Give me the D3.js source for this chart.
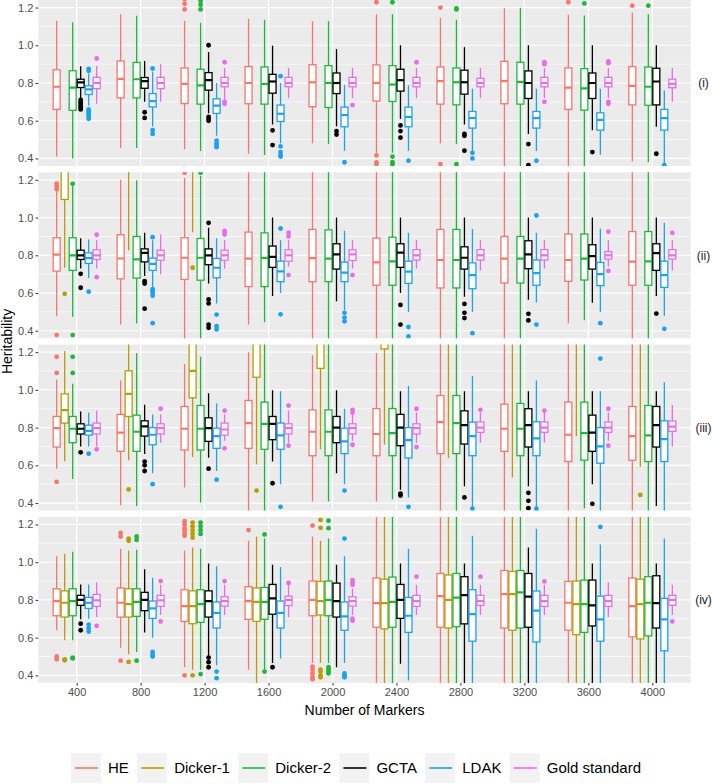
<!DOCTYPE html>
<html><head><meta charset="utf-8">
<script src="https://cdn.jsdelivr.net/npm/d3@7"></script>
<style>
body{margin:0;background:#fff;}
svg{display:block;font-family:"Liberation Sans",Arial,Helvetica,sans-serif;}
</style></head>
<body><svg id="chart" width="712" height="784"></svg>
<script>
// ---------------- data ----------------
const panels = ["(i)", "(ii)", "(iii)", "(iv)"];
const markers = [400, 800, 1200, 1600, 2000, 2400, 2800, 3200, 3600, 4000];
const methods = ["HE", "Dicker-1", "Dicker-2", "GCTA", "LDAK", "Gold standard"];
const colors = ["#F8766D", "#B79F00", "#1DB83A", "#000000", "#1AA3EE", "#EB6BEB"];
const yTicks = [0.4, 0.6, 0.8, 1.0, 1.2];
const yMinor = [0.5, 0.7, 0.9, 1.1];
// five-number summaries per marker: [lower whisker, Q1, median, Q3, upper whisker]
// panel (i)
const HE_i = [[0.41,0.66,0.78,0.87,1.13],[0.456,0.721,0.822,0.917,1.165],[0.449,0.691,0.795,0.88,1.13],[0.425,0.69,0.80,0.887,1.141],[0.48,0.674,0.804,0.897,1.128],[0.43,0.704,0.80,0.896,1.165],[0.48,0.688,0.81,0.885,1.146],[0.30,0.69,0.81,0.915,1.197],[0.30,0.66,0.776,0.88,1.162],[0.384,0.684,0.785,0.887,1.174]];
const D1_i = [null,null,null,null,null,null,null,null,null,null];
const D2_i = [[0.40,0.655,0.776,0.865,1.122],[0.455,0.721,0.82,0.909,1.156],[0.44,0.688,0.787,0.873,1.12],[0.418,0.688,0.795,0.885,1.135],[0.476,0.67,0.80,0.892,1.128],[0.43,0.702,0.792,0.892,1.165],[0.476,0.684,0.804,0.88,1.135],[0.30,0.688,0.806,0.91,1.197],[0.30,0.656,0.771,0.876,1.158],[0.38,0.682,0.78,0.885,1.165]];
const GC_i = [[0.72,0.776,0.803,0.82,0.889],[0.70,0.772,0.81,0.829,0.917],[0.64,0.762,0.815,0.855,0.965],[0.58,0.746,0.808,0.846,0.998],[0.57,0.744,0.80,0.853,0.98],[0.61,0.757,0.815,0.873,1.0],[0.58,0.741,0.804,0.868,0.99],[0.53,0.718,0.80,0.864,1.0],[0.55,0.718,0.80,0.853,1.0],[0.568,0.684,0.808,0.878,1.0]];
const LD_i = [[0.68,0.739,0.766,0.785,0.85],[0.57,0.673,0.704,0.744,0.86],[0.52,0.639,0.68,0.716,0.80],[0.48,0.596,0.637,0.683,0.80],[0.44,0.568,0.63,0.672,0.79],[0.44,0.568,0.62,0.672,0.788],[0.44,0.561,0.614,0.649,0.77],[0.44,0.561,0.614,0.649,0.77],[0.42,0.55,0.605,0.642,0.77],[0.37,0.55,0.614,0.66,0.76]];
const GS_i = [[0.69,0.77,0.80,0.83,0.89],[0.70,0.77,0.80,0.83,0.90],[0.71,0.78,0.80,0.83,0.88],[0.72,0.78,0.80,0.83,0.88],[0.72,0.78,0.80,0.83,0.88],[0.72,0.78,0.80,0.83,0.88],[0.72,0.78,0.80,0.825,0.88],[0.72,0.78,0.80,0.83,0.88],[0.72,0.78,0.80,0.83,0.88],[0.70,0.775,0.795,0.82,0.88]];
const HE_i_out = [[],[],[1.19,1.22,1.245],[],[],[1.228,0.416,0.379,0.37],[1.20,0.37],[],[1.228],[1.21]];
const D1_i_out = [[],[],[],[],[],[],[],[],[],[]];
const D2_i_out = [[],[],[1.19,1.215,1.235],[],[],[1.228,0.41,0.38,0.37],[1.19,1.195,0.37],[],[1.222],[1.21]];
const GC_i_out = [[0.71,0.70,0.69,0.68,0.67,0.66],[0.645,0.615],[1.0,0.62,0.61,0.60],[0.549,0.471],[0.545,0.527],[0.575,0.545,0.51],[0.53,0.52,0.441],[0.476,0.364],[0.434],[0.425]];
const LD_i_out = [[0.875,0.865,0.66,0.65,0.64,0.63,0.62,0.61],[0.877,0.55,0.53],[0.495,0.48,0.47,0.46],[0.836,0.464,0.434,0.418,0.41],[0.38],[0.388],[0.43,0.40],[0.388],[],[0.365]];
const GS_i_out = [[0.93],[],[0.91,0.70,0.69],[],[0.683],[0.91],[],[0.91,0.90,0.70],[0.915,0.905,0.70,0.69],[]];
// panel (ii)
const HE_ii = [[0.477,0.716,0.804,0.893,1.14],[0.433,0.675,0.783,0.909,1.20],[0.30,0.672,0.787,0.893,1.21],[0.433,0.634,0.782,0.923,1.30],[0.30,0.66,0.785,0.937,1.30],[0.30,0.641,0.762,0.891,1.30],[0.30,0.627,0.775,0.937,1.30],[0.30,0.653,0.782,0.90,1.30],[0.44,0.662,0.775,0.913,1.30],[0.30,0.641,0.766,0.926,1.30]];
const D1_ii = [[0.734,1.096,1.35,1.5,1.8],[0.827,1.3,1.4,1.5,1.8],[0.922,1.3,1.4,1.5,1.8],null,null,null,null,null,null,null];
const D2_ii = [[0.474,0.72,0.80,0.893,1.166],[0.439,0.679,0.778,0.90,1.198],[0.30,0.668,0.787,0.889,1.22],[0.445,0.634,0.786,0.919,1.30],[0.30,0.66,0.782,0.935,1.30],[0.30,0.641,0.768,0.896,1.30],[0.30,0.627,0.775,0.937,1.30],[0.30,0.653,0.782,0.90,1.30],[0.456,0.669,0.782,0.913,1.30],[0.30,0.641,0.768,0.926,1.30]];
const GC_ii = [[0.73,0.778,0.80,0.827,0.89],[0.69,0.765,0.813,0.834,0.919],[0.65,0.75,0.80,0.834,0.946],[0.584,0.736,0.792,0.849,1.0],[0.556,0.727,0.805,0.861,1.0],[0.60,0.736,0.814,0.861,1.0],[0.58,0.727,0.787,0.845,1.0],[0.565,0.729,0.805,0.877,1.0],[0.549,0.727,0.796,0.856,1.0],[0.584,0.72,0.812,0.861,1.0]];
const LD_ii = [[0.68,0.757,0.785,0.813,0.884],[0.63,0.72,0.755,0.785,0.88],[0.545,0.681,0.734,0.783,0.89],[0.60,0.66,0.715,0.769,0.88],[0.51,0.66,0.708,0.764,0.93],[0.50,0.651,0.713,0.769,0.92],[0.50,0.623,0.695,0.76,0.94],[0.55,0.641,0.705,0.775,0.92],[0.50,0.639,0.70,0.762,0.942],[0.48,0.63,0.695,0.769,0.972]];
const GS_ii = [[0.73,0.778,0.80,0.829,0.88],[0.70,0.774,0.80,0.827,0.91],[0.73,0.774,0.80,0.827,0.88],[0.74,0.769,0.80,0.829,0.88],[0.73,0.773,0.805,0.829,0.88],[0.73,0.775,0.80,0.83,0.88],[0.72,0.775,0.80,0.83,0.88],[0.73,0.775,0.80,0.83,0.88],[0.74,0.78,0.80,0.82,0.88],[0.72,0.78,0.80,0.83,0.88]];
const HE_ii_out = [[1.18,1.165,1.15,0.377],[],[1.237],[],[],[],[],[],[],[]];
const D1_ii_out = [[0.596],[],[0.734],[],[],[],[],[],[],[]];
const D2_ii_out = [[1.179,0.377],[],[1.237],[],[],[],[],[],[],[]];
const GC_ii_out = [[0.702,0.628],[0.663,0.65,0.517],[0.972,0.566,0.545,0.433,0.416],[],[],[0.537,0.433],[0.542,0.495,0.467],[0.49,0.455],[],[0.491]];
const LD_ii_out = [[0.607],[0.896,0.62,0.61,0.60,0.585,0.44],[0.486,0.424,0.407],[0.942,0.487],[0.495,0.47,0.45],[0.42,0.37],[0.387],[1.011,0.433],[0.44],[0.41]];
const GS_ii_out = [[0.909,0.684],[],[0.93,0.92,0.91],[0.92,0.90,0.695],[0.695],[],[],[],[0.925,0.717],[0.919]];
// panel (iii)
const HE_iii = [[0.582,0.697,0.797,0.859,1.055],[0.389,0.674,0.773,0.87,1.05],[0.483,0.681,0.794,0.912,1.137],[0.30,0.69,0.824,0.944,1.20],[0.408,0.651,0.778,0.894,1.184],[0.408,0.651,0.766,0.901,1.194],[0.30,0.662,0.829,0.97,1.30],[0.30,0.674,0.794,0.924,1.30],[0.30,0.62,0.762,0.935,1.30],[0.30,0.627,0.755,0.912,1.30]];
const D1_iii = [[0.622,0.824,0.893,0.979,1.206],[0.627,0.859,0.979,1.101,1.30],[0.644,0.958,1.101,1.35,1.6],[0.605,1.067,1.35,1.5,1.8],[0.685,1.114,1.35,1.5,1.8],[0.709,1.217,1.4,1.5,1.8],[0.639,1.3,1.4,1.5,1.8],[0.535,1.3,1.4,1.5,1.8],[0.755,1.3,1.4,1.5,1.8],[0.593,1.3,1.4,1.5,1.8]];
const D2_iii = [[0.528,0.72,0.794,0.859,1.032],[0.385,0.674,0.778,0.866,1.194],[0.403,0.681,0.794,0.917,1.175],[0.30,0.685,0.82,0.935,1.30],[0.408,0.651,0.778,0.894,1.30],[0.42,0.651,0.771,0.901,1.30],[0.30,0.662,0.824,0.97,1.30],[0.30,0.651,0.794,0.928,1.30],[0.373,0.627,0.771,0.935,1.30],[0.30,0.62,0.759,0.917,1.30]];
const GC_iii = [[0.70,0.766,0.794,0.82,0.885],[0.66,0.755,0.806,0.836,0.921],[0.64,0.727,0.797,0.852,0.982],[0.62,0.736,0.82,0.859,0.998],[0.558,0.72,0.80,0.859,0.998],[0.47,0.704,0.80,0.87,0.993],[0.489,0.713,0.813,0.889,0.993],[0.489,0.697,0.813,0.90,0.993],[0.50,0.674,0.773,0.866,0.993],[0.385,0.697,0.813,0.912,0.993]];
const LD_iii = [[0.70,0.76,0.783,0.813,0.88],[0.558,0.709,0.762,0.80,0.87],[0.57,0.69,0.755,0.797,0.928],[0.50,0.685,0.759,0.824,0.993],[0.50,0.662,0.727,0.797,0.90],[0.43,0.639,0.734,0.80,1.02],[0.373,0.651,0.755,0.829,1.073],[0.30,0.651,0.743,0.831,1.05],[0.30,0.611,0.70,0.80,0.993],[0.30,0.62,0.739,0.836,1.04]];
const GS_iii = [[0.70,0.766,0.797,0.824,0.89],[0.72,0.766,0.797,0.82,0.87],[0.73,0.76,0.79,0.824,0.87],[0.72,0.766,0.797,0.82,0.89],[0.73,0.766,0.797,0.82,0.88],[0.72,0.766,0.797,0.82,0.88],[0.72,0.775,0.80,0.83,0.88],[0.72,0.775,0.80,0.83,0.88],[0.73,0.775,0.80,0.83,0.88],[0.70,0.78,0.805,0.835,0.92]];
const HE_iii_out = [[1.175,1.09,0.512],[],[],[],[],[],[],[],[],[]];
const D1_iii_out = [[],[0.472],[],[0.466],[],[],[],[],[],[0.443]];
const D2_iii_out = [[1.175,1.09],[],[],[],[],[],[],[],[],[]];
const GC_iii_out = [[0.669],[0.62,0.60,0.57],[0.582],[0.505],[],[0.45,0.44],[0.43],[0.454,0.412,0.373],[0.396],[]];
const LD_iii_out = [[0.662],[0.50],[0.524],[0.38],[0.466],[0.38],[0.37],[0.37],[1.166],[]];
const GS_iii_out = [[0.685],[0.90],[0.89,0.69],[0.917,0.704],[0.894,0.88,0.709],[0.90,0.697],[0.894],[0.89],[0.90,0.704],[]];
// panel (iv)
const HE_iv = [[0.639,0.716,0.794,0.859,1.032],[0.547,0.709,0.785,0.863,1.071],[0.443,0.686,0.767,0.854,1.062],[0.43,0.697,0.794,0.87,1.113],[0.466,0.716,0.80,0.90,1.136],[0.30,0.655,0.783,0.916,1.30],[0.30,0.655,0.82,0.94,1.30],[0.30,0.651,0.831,0.956,1.30],[0.30,0.639,0.785,0.898,1.30],[0.30,0.604,0.767,0.916,1.30]];
const D1_iv = [[0.586,0.709,0.785,0.848,1.044],[0.512,0.709,0.778,0.859,1.062],[0.43,0.674,0.767,0.848,1.078],[0.30,0.686,0.79,0.863,1.136],[0.466,0.72,0.794,0.898,1.113],[0.30,0.646,0.783,0.91,1.30],[0.30,0.651,0.80,0.932,1.30],[0.30,0.639,0.831,0.951,1.30],[0.30,0.616,0.778,0.90,1.30],[0.30,0.593,0.778,0.91,1.30]];
const D2_iv = [[0.586,0.716,0.794,0.859,1.055],[0.524,0.713,0.79,0.859,1.066],[0.43,0.681,0.778,0.854,1.071],[0.43,0.697,0.79,0.866,1.125],[0.466,0.716,0.80,0.90,1.125],[0.30,0.655,0.79,0.921,1.30],[0.30,0.658,0.812,0.94,1.30],[0.30,0.651,0.84,0.956,1.30],[0.30,0.628,0.778,0.905,1.30],[0.30,0.609,0.785,0.923,1.30]];
const GC_iv = [[0.697,0.771,0.80,0.824,0.882],[0.627,0.743,0.80,0.84,0.963],[0.50,0.709,0.794,0.848,0.993],[0.466,0.724,0.808,0.882,0.986],[0.443,0.709,0.794,0.889,0.986],[0.461,0.702,0.80,0.882,0.993],[0.30,0.673,0.825,0.923,0.993],[0.30,0.655,0.817,0.94,1.078],[0.30,0.662,0.771,0.905,0.993],[0.30,0.651,0.783,0.928,0.993]];
const LD_iv = [[0.70,0.755,0.785,0.813,0.882],[0.60,0.702,0.755,0.794,0.917],[0.454,0.651,0.731,0.789,0.978],[0.489,0.651,0.731,0.794,0.974],[0.466,0.639,0.713,0.789,1.032],[0.373,0.628,0.716,0.813,1.071],[0.30,0.581,0.725,0.854,1.14],[0.30,0.577,0.743,0.847,1.177],[0.30,0.581,0.697,0.82,1.094],[0.30,0.53,0.697,0.808,1.125]];
const GS_iv = [[0.71,0.766,0.797,0.829,0.894],[0.72,0.766,0.797,0.824,0.88],[0.72,0.767,0.794,0.817,0.88],[0.708,0.77,0.80,0.82,0.88],[0.72,0.767,0.794,0.817,0.86],[0.72,0.766,0.794,0.824,0.88],[0.72,0.771,0.794,0.824,0.88],[0.72,0.766,0.794,0.824,0.88],[0.71,0.766,0.794,0.824,0.894],[0.72,0.771,0.80,0.824,0.88]];
const HE_iv_out = [[0.50,0.485],[1.155,1.136,0.478],[1.217,1.20,1.18,1.165,1.15,1.14,0.40],[1.17],[1.194,0.446,0.43,0.41,0.39,0.38],[],[],[],[],[]];
const D1_iv_out = [[0.485,0.48],[1.125,1.113,0.471],[1.21,1.19,1.17,1.15,1.13,0.40],[],[1.224,1.182,0.43,0.42,0.40,0.39],[],[],[],[],[]];
const D2_iv_out = [[0.494,0.49],[1.136,1.118,0.478],[1.21,1.19,1.17,1.15,0.407],[1.147,0.42],[1.22,1.18,0.443,0.43,0.42,0.41],[],[],[],[],[]];
const GC_iv_out = [[0.674,0.639],[],[0.494,0.47,0.443],[0.443],[],[],[],[],[],[]];
const LD_iv_out = [[0.669,0.65,0.632],[0.524,0.51,0.50],[0.42,0.385],[],[1.125,0.41,0.40,0.39],[],[],[],[1.187],[]];
const GS_iv_out = [[0.662],[0.90,0.686],[0.90],[0.89],[0.905,0.89,0.88,0.70,0.69],[0.923],[0.923],[0.898],[],[0.686]];

const panelStats = [
  [HE_i, D1_i, D2_i, GC_i, LD_i, GS_i],
  [HE_ii, D1_ii, D2_ii, GC_ii, LD_ii, GS_ii],
  [HE_iii, D1_iii, D2_iii, GC_iii, LD_iii, GS_iii],
  [HE_iv, D1_iv, D2_iv, GC_iv, LD_iv, GS_iv]
];
const panelOut = [
  [HE_i_out, D1_i_out, D2_i_out, GC_i_out, LD_i_out, GS_i_out],
  [HE_ii_out, D1_ii_out, D2_ii_out, GC_ii_out, LD_ii_out, GS_ii_out],
  [HE_iii_out, D1_iii_out, D2_iii_out, GC_iii_out, LD_iii_out, GS_iii_out],
  [HE_iv_out, D1_iv_out, D2_iv_out, GC_iv_out, LD_iv_out, GS_iv_out]
];

// ---------------- layout ----------------
const W = 712, H = 784;
const left = 38.3, right = 690.7;
const panelH = 166, panelStep = 172.3, panelTop0 = 0;
const svg = d3.select("#chart");
svg.append("rect").attr("width", W).attr("height", H).attr("fill", "#fff");

const x = d3.scalePoint().domain(markers).range([left, right]).padding(0.6);
const dodge = d3.scaleBand().domain(methods).range([-24, 24]);
const boxW = 7;
const color = d3.scaleOrdinal().domain(methods).range(colors);

panels.forEach((pl, p) => {
  const top = panelTop0 + p * panelStep;
  const y = d3.scaleLinear().domain([0.36, 1.24]).range([top + panelH, top]);
  const g = svg.append("g");
  const clipId = "clip" + p;
  svg.append("clipPath").attr("id", clipId).append("rect")
    .attr("x", left).attr("y", top).attr("width", right - left).attr("height", panelH);
  g.append("rect").attr("x", left).attr("y", top).attr("width", right - left).attr("height", panelH).attr("fill", "#EBEBEB");
  // grid
  g.selectAll(".minor").data(yMinor).join("line")
    .attr("x1", left).attr("x2", right).attr("y1", d => y(d)).attr("y2", d => y(d))
    .attr("stroke", "#fff").attr("stroke-width", 0.6);
  g.selectAll(".major").data(yTicks).join("line")
    .attr("x1", left).attr("x2", right).attr("y1", d => y(d)).attr("y2", d => y(d))
    .attr("stroke", "#fff").attr("stroke-width", 1.2);
  g.selectAll(".vgrid").data(markers).join("line")
    .attr("x1", d => x(d)).attr("x2", d => x(d)).attr("y1", top).attr("y2", top + panelH)
    .attr("stroke", "#fff").attr("stroke-width", 1.2);

  const marks = svg.append("g").attr("clip-path", `url(#${clipId})`);
  methods.forEach((m, mi) => {
    const stats = panelStats[p][mi];
    const outs = panelOut[p][mi];
    const col = color(m);
    markers.forEach((mk, k) => {
      const cx = x(mk) + dodge(m) + dodge.bandwidth() / 2;
      const s = stats[k];
      const bg = marks.append("g");
      if (s) {
        const [lo, q1, med, q3, hi] = s;
        bg.append("line").attr("x1", cx).attr("x2", cx).attr("y1", y(hi)).attr("y2", y(q3))
          .attr("stroke", col).attr("stroke-width", 1.3);
        bg.append("line").attr("x1", cx).attr("x2", cx).attr("y1", y(q1)).attr("y2", y(lo))
          .attr("stroke", col).attr("stroke-width", 1.3);
        bg.append("rect").attr("x", cx - boxW / 2).attr("width", boxW)
          .attr("y", y(q3)).attr("height", y(q1) - y(q3))
          .attr("fill", "#fff").attr("stroke", col).attr("stroke-width", 1.3);
        bg.append("line").attr("x1", cx - boxW / 2).attr("x2", cx + boxW / 2)
          .attr("y1", y(med)).attr("y2", y(med)).attr("stroke", col).attr("stroke-width", 2.2);
      }
      (outs[k] || []).forEach(v => {
        bg.append("circle").attr("cx", cx).attr("cy", y(v)).attr("r", 2.4).attr("fill", col);
      });
    });
  });

  // y axis
  const ya = svg.append("g").attr("transform", `translate(${left},0)`)
    .call(d3.axisLeft(y).tickValues(yTicks).tickFormat(d3.format(".1f")).tickSize(2.75).tickPadding(2.2));
  ya.select(".domain").remove();
  ya.selectAll(".tick line").attr("stroke", "#333333").attr("stroke-width", 1);
  ya.selectAll(".tick text").attr("fill", "#4D4D4D").attr("font-size", 11)
    .attr("font-family", "Liberation Sans, Arial, sans-serif");

  // strip label
  svg.append("text").attr("x", 703.5).attr("y", top + panelH / 2).attr("dy", "0.35em")
    .attr("text-anchor", "middle").attr("font-size", 12).attr("fill", "#1A1A1A").text(pl);

  if (p === panels.length - 1) {
    const xa = svg.append("g").attr("transform", `translate(0,${top + panelH})`)
      .call(d3.axisBottom(x).tickSize(2.75).tickPadding(2.2));
    xa.select(".domain").remove();
    xa.selectAll(".tick line").attr("stroke", "#333333").attr("stroke-width", 1);
    xa.selectAll(".tick text").attr("fill", "#4D4D4D").attr("font-size", 11)
      .attr("font-family", "Liberation Sans, Arial, sans-serif");
  }
});

// axis titles
const lastBottom = panelTop0 + 3 * panelStep + panelH;
svg.append("text").attr("x", (left + right) / 2).attr("y", 714.5).attr("text-anchor", "middle")
  .attr("font-size", 14).attr("fill", "#000").text("Number of Markers");
svg.append("text").attr("transform", `translate(12,${lastBottom / 2}) rotate(-90)`)
  .attr("text-anchor", "middle").attr("font-size", 14).attr("fill", "#000").text("Heritability");

// legend
const leg = svg.append("g");
const keyW = 30, keyH = 30, keyY = 753, gapText = 7, gapItem = 8.3;
const items = methods.map(m => {
  const t = leg.append("text").attr("font-size", 15).attr("fill", "#000").attr("y", keyY + keyH / 2).attr("dy", "0.35em").text(m);
  return { m, t, w: t.node().getComputedTextLength() };
});
const total = d3.sum(items, d => keyW + gapText + d.w) + gapItem * (items.length - 1);
let cx0 = W / 2 - total / 2;
items.forEach(d => {
  leg.insert("rect", "text").attr("x", cx0).attr("y", keyY).attr("width", keyW).attr("height", keyH).attr("fill", "#F2F2F2");
  leg.append("line").attr("x1", cx0 + 4).attr("x2", cx0 + 27).attr("y1", keyY + keyH / 2).attr("y2", keyY + keyH / 2)
    .attr("stroke", color(d.m)).attr("stroke-width", 1.6);
  d.t.attr("x", cx0 + keyW + gapText);
  cx0 += keyW + gapText + d.w + gapItem;
});
</script></body></html>
